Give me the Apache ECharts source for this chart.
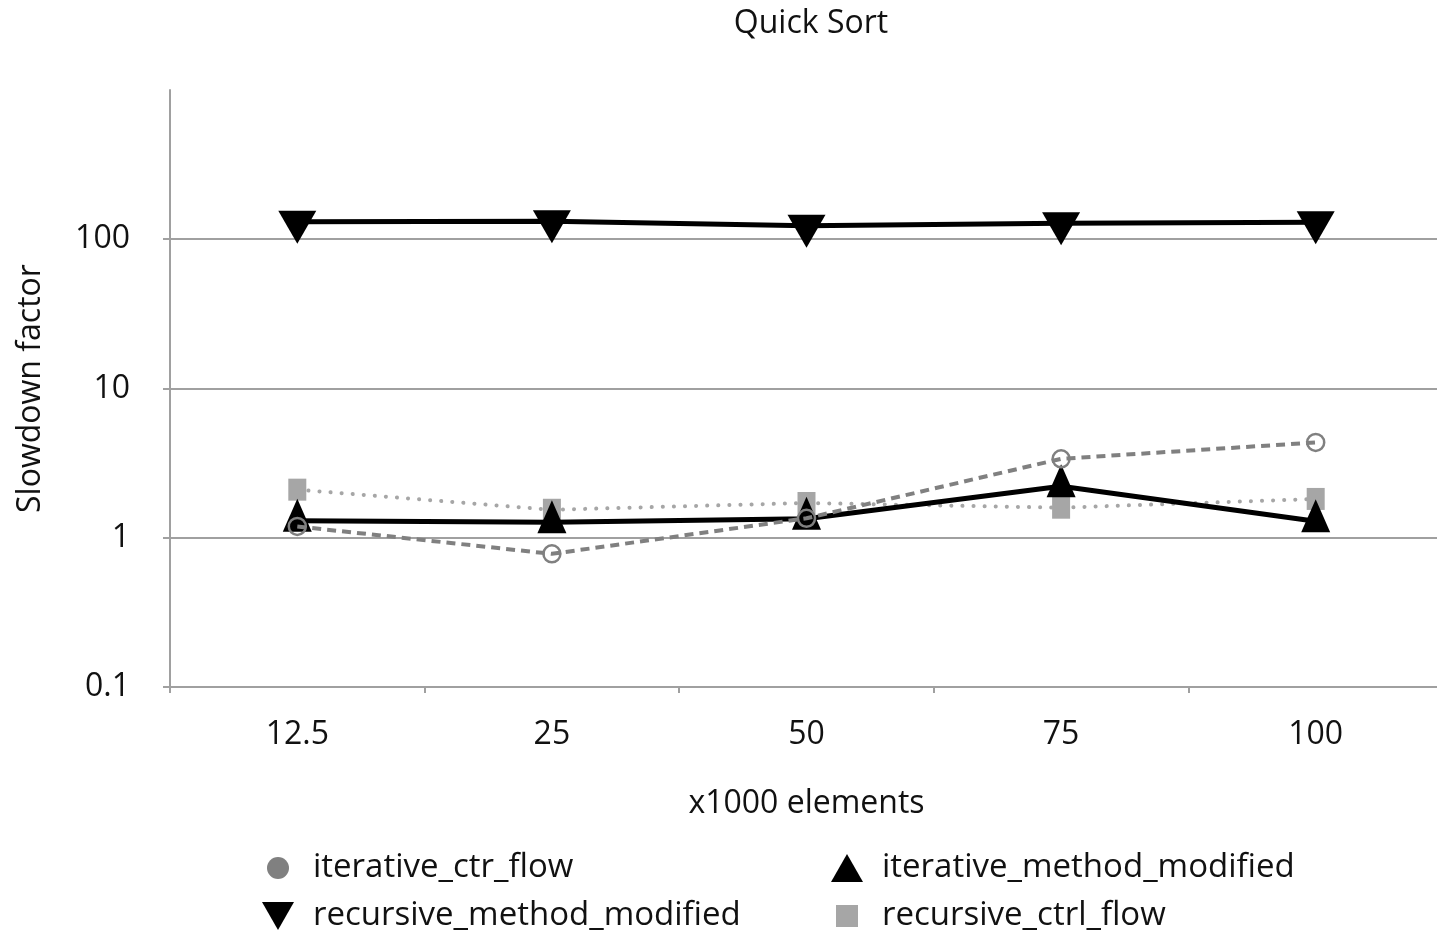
<!DOCTYPE html>
<html>
<head>
<meta charset="utf-8">
<script src="https://cdn.jsdelivr.net/npm/echarts@6/dist/echarts.min.js"></script>
<style>html,body{margin:0;padding:0;background:#fff;overflow:hidden;width:1437px;height:931px;}#c{width:1443px;height:931px;}</style>
</head>
<body>
<div id="c"></div>
<script>
const categories = ['12.5', '25', '50', '75', '100'];
const iterativeCtrFlow = [1.19, 0.78, 1.35, 3.38, 4.35];
const iterativeMethodModified = [1.30, 1.27, 1.34, 2.21, 1.29];
const recursiveMethodModified = [131, 132, 123, 128, 130];
const recursiveCtrlFlow = [2.10, 1.54, 1.71, 1.59, 1.82];
const yTicks = [0.1, 1, 10, 100, 1000];

const FONT = '"Open Sans", sans-serif';
const TXT = '#111';
const AX = '#a0a0a0';
const downTri = 'path://M0,0 L38,0 L19,33 Z';

function legendItem(name, icon, left, top, w, h, color, pad) {
  return {
    data: [{ name: name, icon: icon, itemStyle: { color: color, borderWidth: 0 } }],
    left: left, top: top, orient: 'horizontal', padding: 0,
    itemWidth: w, itemHeight: h, selectedMode: false,
    textStyle: { fontFamily: FONT, fontSize: 33, color: TXT, padding: [0, 0, 0, pad], lineHeight: 38 }
  };
}

const chart = echarts.init(document.getElementById('c'), null, { renderer: 'canvas' });
chart.setOption({
  backgroundColor: '#fff',
  animation: false,
  title: {
    text: 'Quick Sort', left: 806, top: 3, textAlign: 'center',
    textStyle: { fontFamily: FONT, fontSize: 32, fontWeight: 'normal', color: TXT }
  },
  legend: [
    legendItem('iterative_ctr_flow', 'circle', 267, 849, 22, 22, '#808080', 19),
    legendItem('iterative_method_modified', 'triangle', 831, 849, 32, 28, '#000', 14),
    legendItem('recursive_method_modified', downTri, 262, 897, 32, 28, '#000', 14),
    legendItem('recursive_ctrl_flow', 'rect', 836, 897, 22, 22, '#a6a6a6', 19)
  ],
  grid: { left: 170, top: 90, right: 0, bottom: 244, containLabel: false },
  xAxis: {
    type: 'category', data: categories, boundaryGap: true,
    name: 'x1000 elements', nameLocation: 'middle', nameGap: 101,
    nameTextStyle: { fontFamily: FONT, fontSize: 32, color: TXT },
    axisLine: { lineStyle: { color: AX, width: 2 } },
    axisTick: { show: true, length: 6, lineStyle: { color: AX, width: 2 } },
    axisLabel: { fontFamily: FONT, fontSize: 32, color: TXT, margin: 32 },
    splitLine: { show: false }
  },
  yAxis: {
    type: 'log', logBase: 10, min: yTicks[0], max: yTicks[yTicks.length - 1],
    name: 'Slowdown factor', nameLocation: 'middle', nameGap: 123,
    nameTextStyle: { fontFamily: FONT, fontSize: 32, color: TXT },
    axisLine: { show: true, lineStyle: { color: AX, width: 2 } },
    axisTick: { show: true, length: 7, lineStyle: { color: AX, width: 2 } },
    axisLabel: { fontFamily: FONT, fontSize: 32, color: TXT, margin: 40, showMaxLabel: false,
      formatter: function (v) { return String(+v.toPrecision(3)); } },
    splitLine: { show: true, showMaxLine: false, showMinLine: false, lineStyle: { color: AX, width: 2 } }
  },
  series: [
    {
      name: 'recursive_method_modified', type: 'line', data: recursiveMethodModified,
      symbol: 'triangle', symbolRotate: 180, symbolSize: [38, 33], symbolOffset: [0, 5.5],
      itemStyle: { color: '#000' }, lineStyle: { color: '#000', width: 5 }, z: 2
    },
    {
      name: 'recursive_ctrl_flow', type: 'line', data: recursiveCtrlFlow,
      symbol: 'rect', symbolSize: [18, 22],
      itemStyle: { color: '#a6a6a6' },
      lineStyle: { color: '#a6a6a6', width: 4, type: [0.1, 11], cap: 'round' }, z: 3
    },
    {
      name: 'iterative_method_modified', type: 'line', data: iterativeMethodModified,
      symbol: 'triangle', symbolSize: [29, 33], symbolOffset: [0, -5.5],
      itemStyle: { color: '#000' }, lineStyle: { color: '#000', width: 5 }, z: 4
    },
    {
      name: 'iterative_ctr_flow', type: 'line', data: iterativeCtrFlow,
      symbol: 'circle', symbolSize: 17,
      itemStyle: { color: 'rgba(0,0,0,0)', borderColor: '#808080', borderWidth: 2.5 },
      lineStyle: { color: '#808080', width: 4, type: [9, 6] }, z: 5
    }
  ]
});
</script>
</body>
</html>
